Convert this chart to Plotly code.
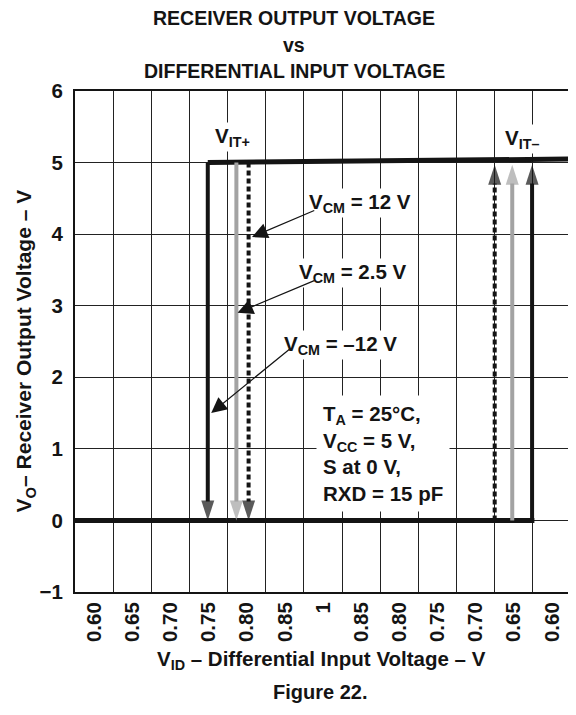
import plotly.graph_objects as go

# ---- data ----
x_labels = ["0.60", "0.65", "0.70", "0.75", "0.80", "0.85", "1",
            "0.85", "0.80", "0.75", "0.70", "0.65", "0.60"]
y_ticks = [-1, 0, 1, 2, 3, 4, 5, 6]

# output levels (x in grid-cell units along the sweep axis)
high_x = [3.48, 13.08]
high_y = [5.0, 5.05]
low_x = [-0.08, 12.04]
low_y = [0.0, 0.0]

vcm_names = ["VCM = 12 V", "VCM = 2.5 V", "VCM = -12 V"]
fall_x = [4.55, 4.23, 3.48]      # V_IT+ transitions (output 5 -> 0)
rise_x = [11.00, 11.46, 11.98]   # V_IT- transitions (output 0 -> 5)
v_high = 5.0
v_low = 0.0
v_rise_tip = 4.97

FONT = "Liberation Sans, Arial, Helvetica, sans-serif"
BLACK = "#141414"
GREY = "#a3a3a3"
styles = [dict(color=BLACK, dash="5px,3px"),
          dict(color=GREY, dash="solid"),
          dict(color=BLACK, dash="solid")]

fig = go.Figure()

# output levels
fig.add_trace(go.Scatter(x=high_x, y=high_y, mode="lines", showlegend=False,
                         line=dict(color=BLACK, width=5), cliponaxis=False))
fig.add_trace(go.Scatter(x=low_x, y=low_y, mode="lines", showlegend=False,
                         line=dict(color=BLACK, width=5), cliponaxis=False))

# transition arrows
for name, xf, xr, st in zip(vcm_names, fall_x, rise_x, styles):
    for xs, ys in (([xf, xf], [v_high, v_low]), ([xr, xr], [v_low, v_rise_tip])):
        fig.add_trace(go.Scatter(
            x=xs, y=ys, mode="lines+markers", name=name, showlegend=False,
            line=dict(color=st["color"], width=4, dash=st["dash"]),
            marker=dict(symbol="arrow", angleref="previous", size=[0, 21],
                        color=st["color"], line=dict(width=0)),
            cliponaxis=False, hoverinfo="skip"))

def fnt(size):
    return dict(family=FONT, size=size, color=BLACK, weight="bold")

annotations = []

def label(x, y, text, **kw):
    d = dict(x=x, y=y, xref="x", yref="y", text=text, showarrow=False,
             font=fnt(20.5), bgcolor="white", borderpad=1)
    d.update(kw)
    annotations.append(d)

def pointer(tip_x, tip_y, tail_x, tail_y):
    annotations.append(dict(x=tip_x, y=tip_y, ax=tail_x, ay=tail_y,
                            xref="x", yref="y", axref="x", ayref="y",
                            text="", showarrow=True, arrowhead=2,
                            arrowsize=2.6, arrowwidth=1.2, arrowcolor=BLACK))

label(4.12, 5.36, "V<sub>IT+</sub>")
label(11.71, 5.33, "V<sub>IT–</sub>")
label(7.48, 4.43, "V<sub>CM</sub> = 12 V")
label(7.28, 3.46, "V<sub>CM</sub> = 2.5 V")
label(6.96, 2.45, "V<sub>CM</sub> = –12 V")
pointer(4.64, 3.96, 6.31, 4.34)
pointer(4.26, 2.90, 6.31, 3.36)
pointer(3.57, 1.50, 5.66, 2.41)
label(6.31, 0.93,
      "T<sub>A</sub> = 25°C,<br>V<sub>CC</sub> = 5 V,<br>S at 0 V,<br>RXD = 15 pF",
      xanchor="left", align="left", borderpad=6)

# title lines, axis titles and caption (paper coords relative to plot area)
for txt, yy in (("RECEIVER OUTPUT VOLTAGE", 1.1457),
                ("vs", 1.0928),
                ("DIFFERENTIAL INPUT VOLTAGE", 1.040)):
    annotations.append(dict(x=0.4418, y=yy, xref="paper", yref="paper",
                            text=txt, showarrow=False, font=fnt(19.5),
                            xanchor="center", yanchor="middle"))
annotations.append(dict(x=0.497, y=-0.136, xref="paper", yref="paper",
                        text="V<sub>ID</sub> – Differential Input Voltage – V",
                        showarrow=False, font=fnt(20.5), yanchor="middle"))
annotations.append(dict(x=0.494, y=-0.20, xref="paper", yref="paper",
                        text="Figure 22.", showarrow=False, font=fnt(20),
                        yanchor="middle"))
annotations.append(dict(x=-0.10, y=0.481, xref="paper", yref="paper",
                        text="V<sub>O</sub>– Receiver Output Voltage – V",
                        textangle=-90, showarrow=False, font=fnt(21),
                        xanchor="center", yanchor="middle"))

# page body has an 8px margin, so the figure is 8px smaller than the window
fig.update_layout(
    width=568, height=707,
    margin=dict(l=67, r=3, t=83, b=123),
    paper_bgcolor="white", plot_bgcolor="white",
    font=fnt(20),
    annotations=annotations,
    showlegend=False,
)
fig.update_xaxes(
    range=[0, 13], tickmode="array",
    tickvals=[i + 0.5 for i in range(len(x_labels))], ticktext=x_labels,
    tickangle=-90, showgrid=False, zeroline=False, ticks="",
    showline=True, mirror=True, linecolor=BLACK, linewidth=2,
    tickfont=fnt(20.5),
    minor=dict(tickmode="array", tickvals=list(range(len(x_labels) + 1)),
               showgrid=True, gridcolor="#222222", gridwidth=1, ticks=""),
)
fig.update_yaxes(
    range=[-1, 6], tickmode="array", tickvals=y_ticks,
    showgrid=True, gridcolor="#222222", gridwidth=1, zeroline=False, ticks="",
    showline=True, mirror=True, linecolor=BLACK, linewidth=2,
    ticklabelstandoff=6,
    tickfont=fnt(20.5),
)

fig.write_html("out.html")
